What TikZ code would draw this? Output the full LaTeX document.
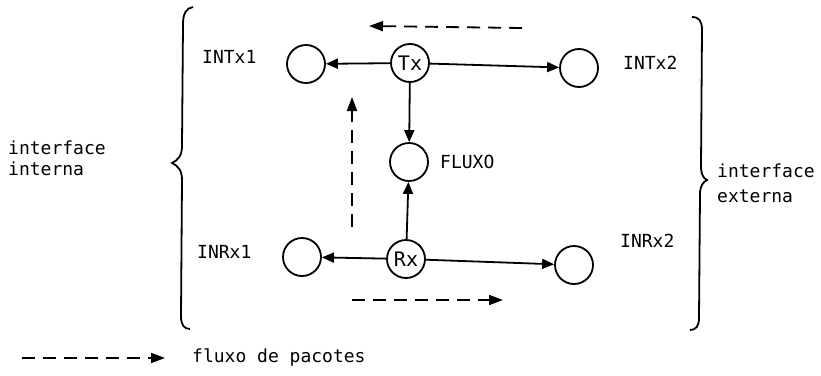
\documentclass[tikz,border=0pt]{standalone}
\usepackage{fontspec}
\newfontfamily\labelfont{DejaVu Sans Mono}
\usetikzlibrary{arrows.meta}
\begin{document}
\begin{tikzpicture}[x=1pt,y=-1pt,
  station/.style={circle, draw, line width=1.8pt, minimum size=38pt, inner sep=0pt,
    font=\labelfont\fontsize{20}{22}\selectfont},
  tag/.style={anchor=west, inner sep=0pt, font=\labelfont\fontsize{18}{21}\selectfont},
  link/.style={line width=1.8pt, -{Triangle[length=12pt,width=10pt]}},
  flow/.style={line width=1.8pt, dash pattern=on 13pt off 8pt,
    -{Triangle[length=14pt,width=10pt]}},
  bracket/.style={line width=1.8pt}]
\useasboundingbox (0,0) rectangle (821,375);

% stations
\node[station] (intx1) at (306,64) {};
\node[station] (tx) at (410,63) {Tx};
\node[station] (intx2) at (579,68) {};
\node[station] (fluxo) at (409,162) {};
\node[station] (rx) at (406,259) {Rx};
\node[station] (inrx1) at (302,257) {};
\node[station] (inrx2) at (574,265) {};

% station labels
\node[tag] (lintx1) at (202,57) {INTx1};
\node[tag] (lintx2) at (623,63) {INTx2};
\node[tag] (lfluxo) at (440,162) {FLUXO};
\node[tag] (linrx1) at (197,252) {INRx1};
\node[tag] (linrx2) at (620,241) {INRx2};

% solid connections
\draw[link] (tx) -- (intx1);
\draw[link] (tx) -- (intx2);
\draw[link] (tx) -- (fluxo);
\draw[link] (rx) -- (fluxo);
\draw[link] (rx) -- (inrx1);
\draw[link] (rx) -- (inrx2);

% packet flow (dashed)
\coordinate (f1a) at (522,28);
\coordinate (f1b) at (369,26);
\coordinate (f2a) at (352,227);
\coordinate (f2b) at (352,97);
\coordinate (f3a) at (352,300);
\coordinate (f3b) at (503,300);
\draw[flow] (f1a) -- (f1b);
\draw[flow] (f2a) -- (f2b);
\draw[flow] (f3a) -- (f3b);

% braces
\draw[bracket] (193,7) .. controls (186,8) and (183,14) .. (183,24)
  -- (182,146) .. controls (182,156) and (178,160) .. (172,163)
  .. controls (178,166) and (182,170) .. (182,180)
  -- (181,316) .. controls (181,325) and (184,329) .. (190,329);
\draw[bracket] (692,17) .. controls (699,17) and (702,21) .. (702,30)
  -- (701,166) .. controls (701,174) and (703,178) .. (707,180)
  .. controls (703,182) and (700,186) .. (700,194)
  -- (699,318) .. controls (699,326) and (696,330) .. (690,330);

\node[tag, align=left] (lint) at (8,158) {interface\\interna};
\node[tag, align=left] (lext) at (717,183) {interface\\[4pt]externa};

% legend
\coordinate (lga) at (22,358);
\coordinate (lgb) at (165,358);
\draw[flow] (lga) -- (lgb);
\node[tag] (lgt) at (192,357) {fluxo de pacotes};
\end{tikzpicture}
\end{document}
